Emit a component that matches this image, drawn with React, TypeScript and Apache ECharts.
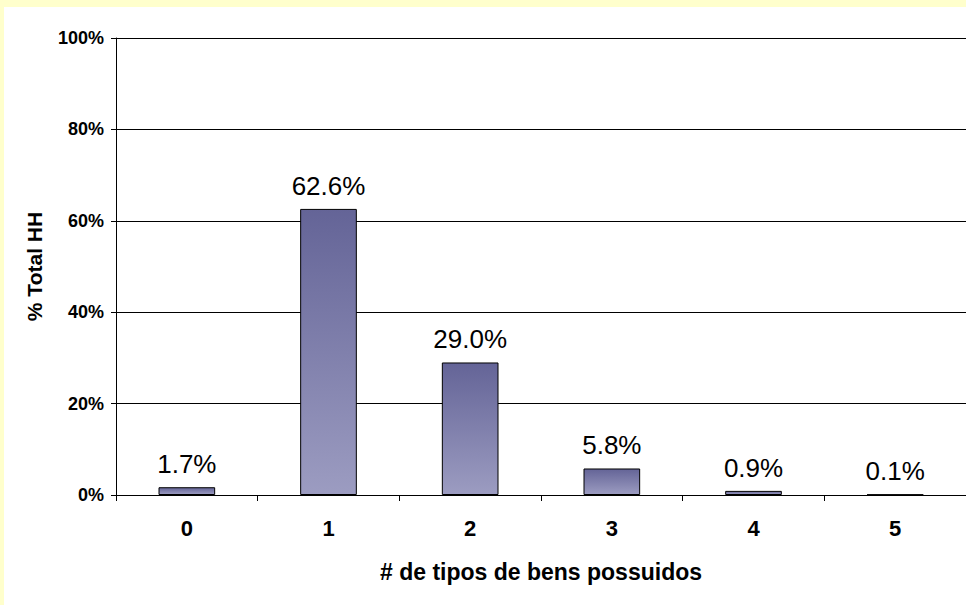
import React, { useEffect, useRef } from "react";
import * as echarts from "echarts";

const categories = ["0", "1", "2", "3", "4", "5"];
const shares = [1.7, 62.6, 29.0, 5.8, 0.9, 0.1];
const xTitle = "# de tipos de bens possuidos";
const yTitle = "% Total HH";

export default function App() {
  const ref = useRef<HTMLDivElement>(null);
  useEffect(() => {
    if (!ref.current) return;
    const chart = echarts.init(ref.current, null, { renderer: "svg" });
    const font = "Arial, 'Liberation Sans', Helvetica, sans-serif";
    chart.setOption({
      animation: false,
      backgroundColor: "#ffffff",
      grid: { left: 112, top: 31, right: 0, bottom: 110, containLabel: false },
      xAxis: {
        type: "category",
        data: categories,
        name: xTitle,
        nameLocation: "middle",
        nameGap: 65,
        nameTextStyle: { fontFamily: font, fontWeight: "bold", fontSize: 23, color: "#000" },
        axisLine: { lineStyle: { color: "#000", width: 1 } },
        axisTick: { show: true, inside: false, length: 6, alignWithLabel: false, lineStyle: { color: "#000" } },
        axisLabel: { fontFamily: font, fontWeight: "bold", fontSize: 22, color: "#000", margin: 22 },
      },
      yAxis: {
        type: "value",
        min: 0,
        max: 100,
        interval: 20,
        name: yTitle,
        nameLocation: "middle",
        nameGap: 71,
        nameRotate: 90,
        nameTextStyle: { fontFamily: font, fontWeight: "bold", fontSize: 21, color: "#000" },
        axisLine: { show: true, lineStyle: { color: "#000", width: 1 } },
        axisTick: { show: true, inside: false, length: 5, lineStyle: { color: "#000" } },
        axisLabel: { formatter: "{value}%", fontFamily: font, fontWeight: "bold", fontSize: 18, color: "#000", margin: 12 },
        splitLine: { show: true, lineStyle: { color: "#000", width: 1 } },
      },
      series: [
        {
          type: "bar",
          data: shares,
          barWidth: "40%",
          itemStyle: {
            color: new echarts.graphic.LinearGradient(0, 0, 0, 1, [
              { offset: 0, color: "#646497" },
              { offset: 1, color: "#9c9cc1" },
            ]),
            borderColor: "#000",
            borderWidth: 1,
          },
          label: {
            show: true,
            position: "top",
            distance: 10,
            formatter: (p: any) => p.value.toFixed(1) + "%",
            fontFamily: font,
            fontSize: 26,
            color: "#000",
          },
        },
      ],
    });
    return () => chart.dispose();
  }, []);
  return (
    <div style={{ position: "absolute", left: 0, top: 0, width: 966, height: 605, background: "#ffffcc" }}>
      <div ref={ref} style={{ position: "absolute", left: 4, top: 7, width: 962, height: 598 }} />
    </div>
  );
}
